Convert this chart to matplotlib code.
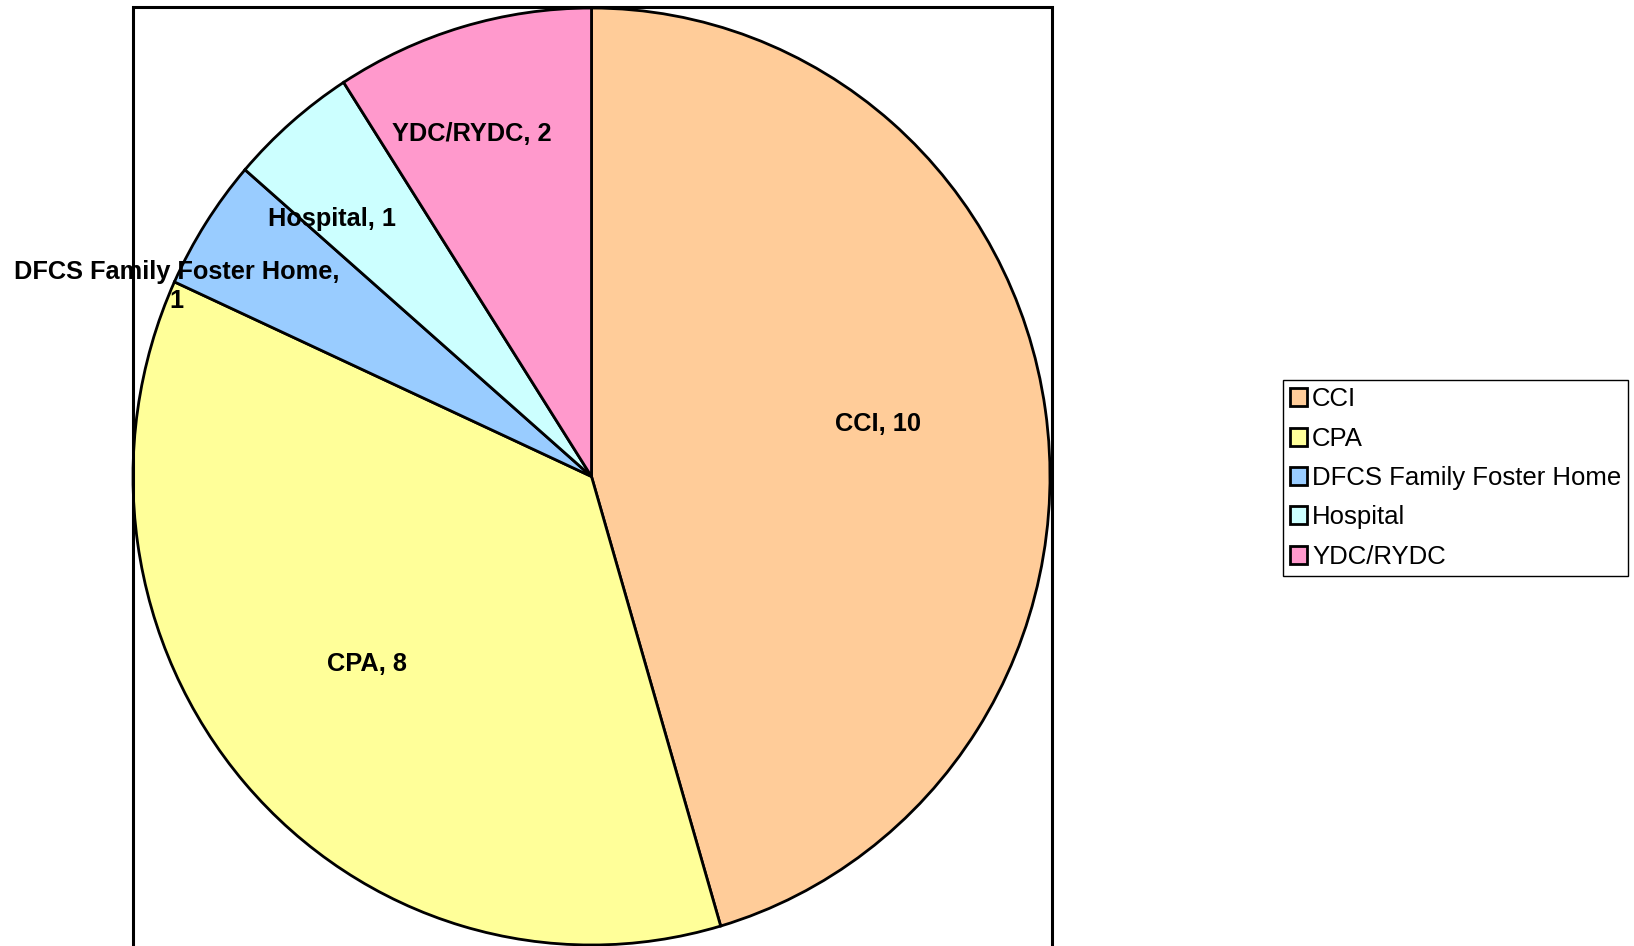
import matplotlib
matplotlib.use("Agg")
import matplotlib.pyplot as plt
from matplotlib.patches import Patch, Rectangle

plt.rcParams["font.family"] = ["Liberation Sans", "DejaVu Sans"]

categories = ["CCI", "CPA", "DFCS Family Foster Home", "Hospital", "YDC/RYDC"]
counts = [10, 8, 1, 1, 2]
colors = ["#FFCC99", "#FFFF99", "#99CCFF", "#CCFFFF", "#FF99CC"]

# label anchor points in pie units (x, y), centre of text
label_pos = [(0.625, 0.112), (-0.49, -0.40), (-0.905, 0.405), (-0.565, 0.55), (-0.26, 0.73)]
label_text = [
    "CCI, 10",
    "CPA, 8",
    "DFCS Family Foster Home,\n1",
    "Hospital, 1",
    "YDC/RYDC, 2",
]

W, H = 1634, 946
fig = plt.figure(figsize=(W / 100, H / 100), dpi=100)

# plot-area frame (runs off the bottom of the image)
fig.patches.append(
    Rectangle((133 / W, -0.1), (1052 - 133) / W, 1.1 - 7 / H,
              transform=fig.transFigure, fill=False, edgecolor="black",
              linewidth=2.2, zorder=0)
)

ax = fig.add_axes([133 / W, 1 / H, (1050 - 133) / W, (945 - 8) / H])
ax.pie(counts, colors=colors, startangle=90, counterclock=False,
       wedgeprops=dict(edgecolor="black", linewidth=2.0))
ax.set_aspect("auto")
ax.set_xlim(-1, 1)
ax.set_ylim(-1, 1)
ax.axis("off")

for (x, y), txt in zip(label_pos, label_text):
    ax.text(x, y, txt, ha="center", va="center", fontsize=18.3,
            fontweight="bold", linespacing=1.25, clip_on=False)

handles = [Patch(facecolor=c, edgecolor="black", linewidth=2.0) for c in colors]
leg = fig.legend(handles, categories, loc="upper left",
                 bbox_to_anchor=(1283 / W, 1 - 380 / H),
                 fontsize=18.5, frameon=True, fancybox=False, framealpha=1,
                 edgecolor="black", borderpad=0.28, labelspacing=0.6,
                 handlelength=0.65, handleheight=0.7, handletextpad=0.2,
                 borderaxespad=0)
leg.get_frame().set_linewidth(1.0)

fig.savefig("out.png", dpi=100)
